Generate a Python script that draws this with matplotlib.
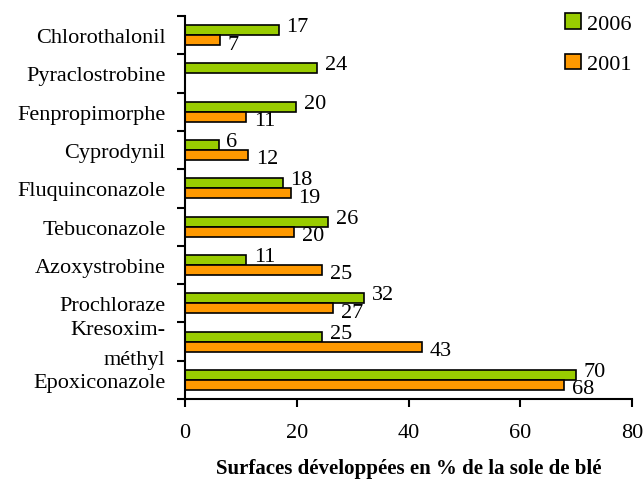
import matplotlib
matplotlib.use("Agg")
import matplotlib.pyplot as plt
import matplotlib.transforms as mtransforms
import numpy as np

categories = ["Chlorothalonil", "Pyraclostrobine", "Fenpropimorphe", "Cyprodynil",
              "Fluquinconazole", "Tebuconazole", "Azoxystrobine", "Prochloraze",
              "Kresoxim-\nméthyl", "Epoxiconazole"]
values_2006 = [16.8, 23.6, 19.9, 6.0, 17.5, 25.6, 11.0, 32.0, 24.6, 69.9]
values_2001 = [6.3, None, 11.0, 11.3, 18.9, 19.5, 24.6, 26.5, 42.5, 67.9]
labels_2006 = ["17", "24", "20", "6", "18", "26", "11", "32", "25", "70"]
labels_2001 = ["7", "", "11", "12", "19", "20", "25", "27", "43", "68"]
xticks = [0, 20, 40, 60, 80]
xlabel = "Surfaces développées en % de la sole de blé"

GREEN = "#99CC00"
ORANGE = "#FF9900"

plt.rcParams["font.family"] = ["Liberation Serif", "DejaVu Serif"]
FS = 16

fig = plt.figure(figsize=(6.44, 4.81), dpi=100)
ax = fig.add_axes([185/644, 1-400/481, (632-185)/644, (400-17)/481])

y = np.arange(len(categories))
h = 0.26
v01 = [np.nan if v is None else v for v in values_2001]

b1 = ax.barh(y - h/2, values_2006, height=h, color=GREEN, edgecolor="black", linewidth=1.2, label="2006")
b2 = ax.barh(y + h/2, v01, height=h, color=ORANGE, edgecolor="black", linewidth=1.2, label="2001")

for yi, v, lab in zip(y, values_2006, labels_2006):
    ax.annotate(lab, (v, yi - h/2), xytext=(5.5, 2.5), textcoords="offset points",
                ha="left", va="center", fontsize=FS)
for yi, v, lab in zip(y, values_2001, labels_2001):
    if v is None or not lab:
        continue
    ax.annotate(lab, (v, yi + h/2), xytext=(5.5, -2.8), textcoords="offset points",
                ha="left", va="center", fontsize=FS)

ax.set_xlim(0, 80)
ax.set_ylim(len(categories) - 0.5, -0.5)
ax.set_xticks(xticks)
ax.set_xticklabels([str(t) for t in xticks], fontsize=FS)
ax.tick_params(axis="x", direction="out", length=6, width=1.5, pad=11)

ax.set_yticks(np.arange(-0.5, len(categories) + 0.5, 1))
ax.set_yticklabels([])
ax.tick_params(axis="y", which="major", direction="out", length=6, width=1.5)
ax.set_yticks(y, minor=True)
ax.set_yticklabels(categories, minor=True, fontsize=FS, linespacing=1.75)
ax.tick_params(axis="y", which="minor", length=0, pad=14)

# nudge the two-line label upward a little
shift = mtransforms.ScaledTranslation(0, 5/100, fig.dpi_scale_trans)
for lbl in ax.get_yticklabels(minor=True):
    if "\n" in lbl.get_text():
        lbl.set_transform(lbl.get_transform() + shift)

for s in ["top", "right"]:
    ax.spines[s].set_visible(False)
for s in ["left", "bottom"]:
    ax.spines[s].set_linewidth(1.5)

fig.text((185+632)/2/644, 1-469/481, xlabel, ha="center", va="center",
         fontsize=15, fontweight="bold")

ax.legend(handles=[b1, b2], loc="upper left", bbox_to_anchor=(565/644, 1-14/481),
          bbox_transform=fig.transFigure, frameon=False, fontsize=FS,
          handlelength=0.7, handleheight=0.7, handletextpad=0.3,
          labelspacing=0.9, borderpad=0, borderaxespad=0)

fig.savefig("out.png", dpi=100)
